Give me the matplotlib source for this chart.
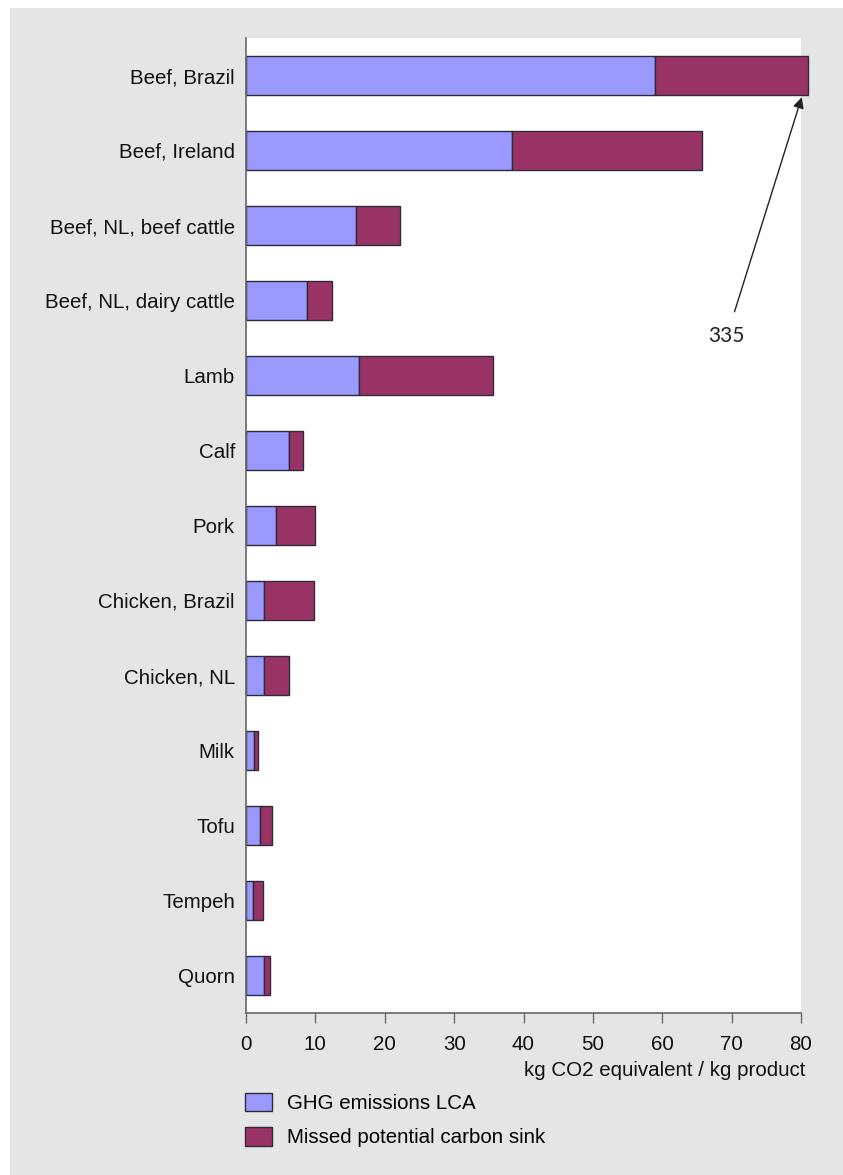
import matplotlib
matplotlib.use("Agg")
import matplotlib.pyplot as plt
from matplotlib.patches import Rectangle

plt.rcParams['font.family'] = ['Liberation Sans', 'DejaVu Sans']

products = ["Beef, Brazil", "Beef, Ireland", "Beef, NL, beef cattle",
            "Beef, NL, dairy cattle", "Lamb", "Calf", "Pork", "Chicken, Brazil",
            "Chicken, NL", "Milk", "Tofu", "Tempeh", "Quorn"]
# GHG emissions from LCA
ghg = [58.9, 38.3, 15.9, 8.8, 16.3, 6.2, 4.3, 2.6, 2.6, 1.15, 2.0, 1.05, 2.6]
# missed potential carbon sink (Beef, Brazil drawn truncated, real total is 335)
sink = [22.1, 27.4, 6.3, 3.6, 19.3, 2.0, 5.7, 7.2, 3.6, 0.6, 1.8, 1.4, 0.8]
beef_brazil_total = 335

blue = '#9999ff'
maroon = '#993366'
edge = '#2e2a3a'
panel = '#e5e5e5'
fs = 14.8

fig = plt.figure(figsize=(8.43, 11.75), dpi=100)
fig.patch.set_facecolor('white')
fig.patches.append(Rectangle((10 / 843, 0), 1, 1 - 8 / 1175, transform=fig.transFigure,
                             facecolor=panel, edgecolor='none', zorder=-10))

ax = fig.add_axes([246 / 843, 1 - 1013 / 1175, (801 - 246) / 843, (1013 - 38) / 1175])
ax.set_facecolor('white')

y = list(range(len(products)))
b1 = ax.barh(y, ghg, height=0.52, color=blue, edgecolor=edge, linewidth=1,
             label='GHG emissions LCA')
b2 = ax.barh(y, sink, left=ghg, height=0.52, color=maroon, edgecolor=edge, linewidth=1,
             label='Missed potential carbon sink')
for p in list(b1) + list(b2):
    p.set_clip_on(False)

ax.set_xlim(0, 80)
ax.set_ylim(len(products) - 0.5, -0.5)
ax.set_yticks(y)
ax.set_yticklabels(products, fontsize=fs, color='#111111')
ax.set_xticks(range(0, 81, 10))
ax.tick_params(axis='x', labelsize=fs, length=7, width=1, color='#666666',
               direction='out', pad=9, labelcolor='#111111')
ax.tick_params(axis='y', length=0, pad=8)

for s in ['top', 'right']:
    ax.spines[s].set_visible(False)
for s in ['left', 'bottom']:
    ax.spines[s].set_color('#666666')
    ax.spines[s].set_linewidth(1.2)

ax.set_xlabel('kg CO2 equivalent / kg product', fontsize=fs, color='#111111',
              loc='right', labelpad=5)
ax.xaxis.label.set_x(1.007)

ax.annotate(str(beef_brazil_total), xy=(80.1, 0.29), xytext=(69.3, 3.48),
            fontsize=15, family=['Lato', 'DejaVu Sans'], color='#222222',
            ha='center', va='center',
            arrowprops=dict(arrowstyle='-|>', color='#222222', lw=1,
                            mutation_scale=16, shrinkA=9, shrinkB=0),
            annotation_clip=False)

fig.legend(handles=[b1, b2], loc='upper left',
           bbox_to_anchor=(245 / 843, 1 - 1093 / 1175), frameon=False,
           fontsize=fs, handlelength=1.3, handleheight=1.0,
           handletextpad=0.75, labelspacing=0.68, borderpad=0, borderaxespad=0)

fig.savefig('out.png', dpi=100, facecolor=fig.get_facecolor())
